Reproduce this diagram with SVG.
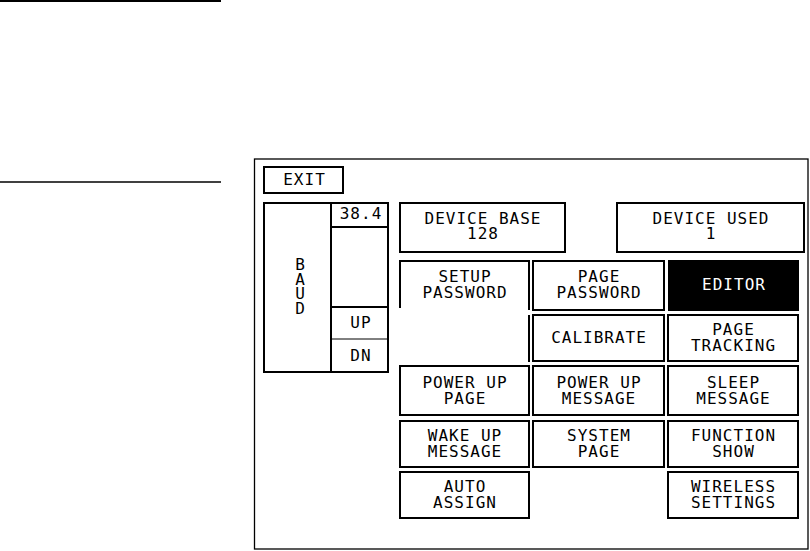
<svg xmlns="http://www.w3.org/2000/svg" width="810" height="551" viewBox="0 0 810 551">
<style>
.b{fill:#fff;stroke:#000;stroke-width:2}
.l{stroke:#000;stroke-width:2;fill:none}
.t{font-family:"DejaVu Sans Mono","Liberation Mono",monospace;font-size:16px;letter-spacing:1px;text-anchor:middle;fill:#000}
.w{fill:#fff}
</style>
<rect width="810" height="551" fill="#fff"/>
<g id="rules">
<line x1="0" y1="1" x2="221" y2="1" stroke="#000" stroke-width="2"/>
<line x1="0" y1="182" x2="221" y2="182" stroke="#000" stroke-width="1.5"/>
</g>
<g id="frame"><rect x="254.5" y="159" width="553.5" height="390" fill="none" stroke="#000" stroke-width="1.3"/></g>
<g id="exit"><rect class="b" x="264" y="167" width="79" height="26"/><text class="t" x="304.5" y="184.5">EXIT</text></g>
<g id="baud">
<rect class="b" x="264" y="203" width="124" height="169"/>
<line class="l" x1="331" y1="203" x2="331" y2="372"/>
<line class="l" x1="331" y1="227" x2="388" y2="227"/>
<line class="l" x1="331" y1="307" x2="388" y2="307"/>
<line x1="331" y1="339" x2="388" y2="339" stroke="#000" stroke-width="1"/>
<text class="t" font-size="15"><tspan x="300.5" y="270">B</tspan><tspan x="300.5" y="284.7">A</tspan><tspan x="300.5" y="299.3">U</tspan><tspan x="300.5" y="314">D</tspan></text>
<text class="t" x="361" y="219">38.4</text>
<text class="t" x="361" y="328">UP</text>
<text class="t" x="361" y="360.5">DN</text>
</g>
<g id="device-base"><rect class="b" x="400" y="203" width="165" height="49"/><text class="t"><tspan x="483" y="223.5">DEVICE BASE</tspan><tspan x="483" y="238.5">128</tspan></text></g>
<g id="device-used"><rect class="b" x="617" y="203" width="187" height="49"/><text class="t"><tspan x="711" y="223.5">DEVICE USED</tspan><tspan x="711" y="238.5">1</tspan></text></g>
<g id="setup-password">
<polyline class="l" points="400,308 400,261 529,261 529,310"/>
<line class="l" x1="529" y1="315" x2="529" y2="362"/>
<text class="t"><tspan x="465" y="282">SETUP</tspan><tspan x="465" y="298">PASSWORD</tspan></text>
</g>
<g id="page-password"><rect class="b" x="533" y="261" width="131" height="49"/><text class="t"><tspan x="599" y="282">PAGE</tspan><tspan x="599" y="298">PASSWORD</tspan></text></g>
<g id="editor"><rect x="668" y="260" width="131" height="51" fill="#000"/><text class="t w" x="734" y="290">EDITOR</text></g>
<g id="calibrate"><rect class="b" x="533" y="315" width="131" height="46"/><text class="t" x="599" y="342.5">CALIBRATE</text></g>
<g id="page-tracking"><rect class="b" x="668" y="315" width="130" height="46"/><text class="t"><tspan x="733.5" y="334.5">PAGE</tspan><tspan x="733.5" y="350.5">TRACKING</tspan></text></g>
<g id="power-up-page"><rect class="b" x="400" y="366" width="129" height="49"/><text class="t"><tspan x="465" y="387.5">POWER UP</tspan><tspan x="465" y="403.5">PAGE</tspan></text></g>
<g id="power-up-message"><rect class="b" x="533" y="366" width="131" height="49"/><text class="t"><tspan x="599" y="387.5">POWER UP</tspan><tspan x="599" y="403.5">MESSAGE</tspan></text></g>
<g id="sleep-message"><rect class="b" x="668" y="366" width="130" height="49"/><text class="t"><tspan x="733.5" y="387.5">SLEEP</tspan><tspan x="733.5" y="403.5">MESSAGE</tspan></text></g>
<g id="wake-up-message"><rect class="b" x="400" y="421" width="129" height="46"/><text class="t"><tspan x="465" y="441">WAKE UP</tspan><tspan x="465" y="457">MESSAGE</tspan></text></g>
<g id="system-page"><rect class="b" x="533" y="421" width="131" height="46"/><text class="t"><tspan x="599" y="441">SYSTEM</tspan><tspan x="599" y="457">PAGE</tspan></text></g>
<g id="function-show"><rect class="b" x="668" y="421" width="130" height="46"/><text class="t"><tspan x="733.5" y="441">FUNCTION</tspan><tspan x="733.5" y="457">SHOW</tspan></text></g>
<g id="auto-assign"><rect class="b" x="400" y="472" width="129" height="46"/><text class="t"><tspan x="465" y="492">AUTO</tspan><tspan x="465" y="508">ASSIGN</tspan></text></g>
<g id="wireless-settings"><rect class="b" x="668" y="472" width="130" height="46"/><text class="t"><tspan x="733.5" y="492">WIRELESS</tspan><tspan x="733.5" y="508">SETTINGS</tspan></text></g>
<g id="connectors"/>
</svg>
